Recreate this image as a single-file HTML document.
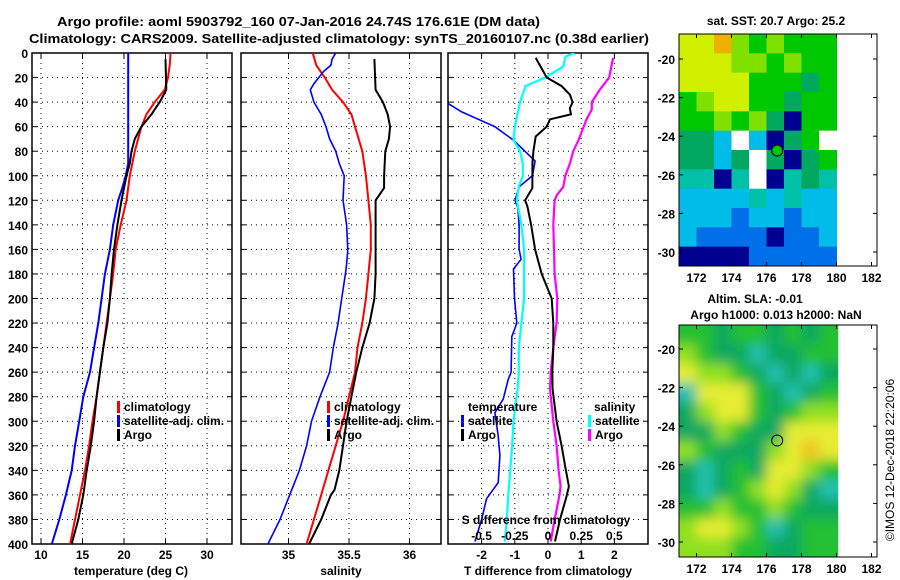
<!DOCTYPE html>
<html><head><meta charset="utf-8"><style>
body{margin:0;background:#fff;}
svg{display:block;font-family:"Liberation Sans",sans-serif;font-weight:bold;}
text{font-size:13px;fill:#000;}
</style></head><body>
<svg id="chart" width="900" height="580" viewBox="0 0 900 580" xmlns="http://www.w3.org/2000/svg">
<defs>
<filter id="smooth" x="0" y="0" width="1" height="1"><feGaussianBlur stdDeviation="6" edgeMode="duplicate"/></filter>
</defs>
<rect x="0" y="0" width="900" height="580" fill="#fff"/>
<text x="57" y="26" textLength="483" lengthAdjust="spacingAndGlyphs">Argo profile: aoml 5903792_160 07-Jan-2016 24.74S 176.61E (DM data)</text>
<text x="29" y="43" textLength="620" lengthAdjust="spacingAndGlyphs">Climatology: CARS2009. Satellite-adjusted climatology: synTS_20160107.nc (0.38d earlier)</text>
<g id="panels"></g>
<g id="maps"></g>
<text transform="translate(894,460) rotate(-90)" text-anchor="middle" style="font-size:12px;font-weight:normal">©IMOS 12-Dec-2018 22:20:06</text>
</svg>
<script>
// ---------- data ----------
const depthTicks = [0,20,40,60,80,100,120,140,160,180,200,220,240,260,280,300,320,340,360,380,400];
const tempTicks = [10,15,20,25,30];
const salTicks = [35,35.5,36];
const tdiffTicks = [-2,-1,0,1,2];
const sdiffTicks = [-0.5,-0.25,0,0.25,0.5];
const sdiffTickLabels = ["-0.5","-0.25","0","0.25","0.5"];

const tClimDepth = [0,10,20,30,40,50,60,80,100,120,140,160,180,200,220,240,260,280,300,320,340,360,380,400];
const tClimVal   = [25.6,25.5,25.3,24.9,23.7,22.7,22.1,21.3,20.7,20.3,19.6,19.0,18.7,18.3,17.9,17.5,17.1,16.7,16.2,15.8,15.3,14.7,14.1,13.5];
const tSatDepth = [0,90,100,110,120,140,160,180,200,220,240,260,280,300,320,340,360,380,400];
const tSatVal   = [20.5,20.5,20.2,19.8,19.3,18.7,18.3,17.7,17.3,16.9,16.4,15.9,15.1,14.6,14.1,13.7,13.0,12.2,11.3];
const tArgoDepth = [5,30,40,50,60,70,80,90,100,120,140,160,180,200,220,240,260,280,300,320,340,360,380,400];
const tArgoVal   = [25.0,25.1,24.3,23.3,22.1,21.3,20.9,20.7,20.3,19.7,19.2,18.8,18.5,18.3,18.0,17.5,17.1,16.7,16.4,16.0,15.5,15.1,14.5,13.7];

const sClimDepth = [0,10,20,30,40,50,60,80,100,120,140,160,180,200,220,240,260,280,300,320,340,360,380,400];
const sClimVal   = [35.20,35.23,35.30,35.36,35.45,35.52,35.55,35.61,35.64,35.66,35.68,35.68,35.66,35.64,35.61,35.57,35.55,35.50,35.45,35.39,35.33,35.27,35.21,35.15];
const sSatDepth = [0,5,10,15,25,30,40,50,60,70,80,90,100,120,140,160,172,180,200,220,240,260,280,300,320,340,360,380,400];
const sSatVal   = [35.39,35.36,35.35,35.29,35.21,35.18,35.21,35.27,35.31,35.34,35.39,35.42,35.46,35.45,35.48,35.49,35.48,35.47,35.44,35.41,35.37,35.34,35.26,35.19,35.15,35.09,35.01,34.93,34.83];
const sArgoDepth = [5,30,40,50,60,70,80,100,110,120,140,160,180,200,220,240,260,280,300,320,340,356,360,380,400];
const sArgoVal   = [35.71,35.72,35.78,35.82,35.84,35.83,35.80,35.79,35.79,35.72,35.72,35.72,35.72,35.71,35.67,35.61,35.56,35.52,35.48,35.45,35.42,35.38,35.35,35.27,35.17];

const dtSatDepth = [38,48,60,71,88,100,109,120,126,140,160,168,176,200,220,231,260,266,282,293,312,328,350,363,380,398];
const dtSatVal   = [-3.2,-2.6,-1.6,-1.04,-0.39,-0.47,-0.87,-0.99,-0.91,-0.87,-0.87,-0.81,-1.04,-1.01,-0.94,-1.09,-1.11,-1.2,-1.35,-1.6,-1.5,-1.45,-1.5,-1.85,-2.0,-2.2];
const dtArgoDepth = [4,20,27,34,40,45,50,54,60,68,80,90,100,110,120,125,140,160,180,200,220,240,260,274,300,320,340,353,361,380,398];
const dtArgoVal   = [-0.37,-0.04,0.41,0.66,0.74,0.66,0.69,0.06,-0.04,-0.37,-0.44,-0.47,-0.47,-0.47,-0.69,-0.62,-0.51,-0.39,-0.19,0.11,0.16,0.16,0.13,0.14,0.26,0.41,0.54,0.63,0.56,0.36,0.21];
const dsSatDepth = [0,3,11,20,27,40,60,71,80,90,100,109,120,140,160,180,200,220,240,260,274,300,320,340,361,380,398];
const dsSatVal   = [0.20,0.13,0.115,-0.02,-0.17,-0.21,-0.25,-0.26,-0.21,-0.19,-0.19,-0.22,-0.235,-0.20,-0.18,-0.18,-0.18,-0.20,-0.22,-0.22,-0.23,-0.26,-0.27,-0.285,-0.30,-0.31,-0.325];
const dsArgoDepth = [4,20,30,40,46,54,71,80,90,100,109,116,120,140,160,180,200,220,240,260,274,300,320,340,353,361,380,398];
const dsArgoVal   = [0.49,0.46,0.39,0.33,0.33,0.29,0.23,0.19,0.165,0.13,0.115,0.065,0.05,0.04,0.045,0.05,0.07,0.065,0.04,0.02,0.015,0.04,0.065,0.08,0.095,0.085,0.05,0.02];

// Map cell colour codes (rows from north, 1 deg columns 171..180E)
const sstRows = ["YYOLGLGGG","YYYLLGLGG","YYYYGGGDG","GLYYGGDGG","GGLGLDNGG","DDCWCNDGW","DDCDWDNDG","TTNTWNTDT","CCCCTCTCC","CCCBCCBCC","CBBBBNBBC","NNNNBBBBB"];
const slaRows = ["GGDGGDGDG","LGDDTDDGG","YLLGDTDTD","TYYYGDTDG","DLYYGDGLL","DDLGDDYYY","LGDDDLYOY","DTDGDYYLG","DTDGLYLDT","GGLGGLGDD","LYYLGTDGG","LLLGGDDGG"];
const mapLatTicks = [-20,-22,-24,-26,-28,-30];
const mapLonTicks = [172,174,176,178,180,182];
const argoLon = 176.61, argoLat = -24.74;

// ---------- helpers ----------
const NS = "http://www.w3.org/2000/svg";
const svg = document.getElementById('chart');
const panelsG = document.getElementById('panels');
const mapsG = document.getElementById('maps');
function mk(tag, attrs, parent){const e=document.createElementNS(NS,tag);for(const k in attrs)e.setAttribute(k,attrs[k]);parent.appendChild(e);return e;}
const yD = d => 53 + d*1.2275;
const PTOP=53, PBOT=544;
const xT = t => 41 + (t-10)*8.3;
const xS = s => 288.5 + (s-35)*121;
const xDT = v => 548 + v*33.2;
const xDS = v => 548 + v*4*33.2;

function frame(x0,x1,name,vTicks,xf){
  const g=mk('g',{},panelsG);
  
  
  const clip=mk('clipPath',{id:'clip-'+name},g);
  mk('rect',{x:x0,y:PTOP,width:x1-x0,height:PBOT-PTOP},clip);
  depthTicks.forEach(d=>{
    if(d>0&&d<400){const l=mk('line',{x1:x0,x2:x1,y1:yD(d),y2:yD(d),stroke:'#000','stroke-width':1,'stroke-dasharray':'1,4'},g);
      }
    mk('line',{x1:x0,x2:x0+5,y1:yD(d),y2:yD(d),stroke:'#000'},g);
    mk('line',{x1:x1-5,x2:x1,y1:yD(d),y2:yD(d),stroke:'#000'},g);
  });
  vTicks.forEach(v=>{const x=xf(v);
    const l=mk('line',{x1:x,x2:x,y1:PTOP,y2:PBOT,stroke:'#000','stroke-width':1,'stroke-dasharray':'1,4'},g);
    
    mk('line',{x1:x,x2:x,y1:PTOP,y2:PTOP+5,stroke:'#000'},g);
    mk('line',{x1:x,x2:x,y1:PBOT-5,y2:PBOT,stroke:'#000'},g);
  });
  mk('rect',{x:x0,y:PTOP,width:x1-x0,height:PBOT-PTOP,fill:'none',stroke:'#000','stroke-width':1.5},g);
  return g;
}
function series(g,name,depths,vals,xf,color,w,clipId){
  let d='';depths.forEach((dp,i)=>{d+=(i?'L':'M')+xf(vals[i]).toFixed(1)+','+yD(dp).toFixed(1);});
  const p=mk('path',{d:d,fill:'none',stroke:color,'stroke-width':w,'clip-path':'url(#'+clipId+')'},g);
  
  
}
function txt(parent,x,y,s,name,anchor,size){
  const t=mk('text',{x:x,y:y,'text-anchor':anchor||'start'},parent);
  if(size)t.style.fontSize=size+'px';
  t.textContent=s;
  
  
  return t;
}
function legendEntry(parent,x,y,color,label){
  const r=mk('rect',{x:x,y:y-10,width:3,height:12,fill:color},parent);
  
  
  txt(parent,x+7,y,label,'legend-entry','start',12);
}

// ---------- panel 1: temperature ----------
const g1=frame(32,232,'temperature-panel',tempTicks,xT);
series(g1,'temp-climatology-line',tClimDepth,tClimVal,xT,'#f00',2,'clip-temperature-panel');
series(g1,'temp-satellite-line',tSatDepth,tSatVal,xT,'#00f',2,'clip-temperature-panel');
series(g1,'temp-argo-line',tArgoDepth,tArgoVal,xT,'#000',2,'clip-temperature-panel');
depthTicks.forEach(d=>txt(g1,28,yD(d)+5,String(d),'y-tick-label','end',12));
tempTicks.forEach(v=>txt(g1,xT(v),559,String(v),'x-tick-label','middle',12));
txt(g1,131,575,'temperature (deg C)','x-axis-title','middle',12);
legendEntry(g1,117,411,'#f00','climatology');
legendEntry(g1,117,425,'#00f','satellite-adj. clim.');
legendEntry(g1,117,439,'#000','Argo');

// ---------- panel 2: salinity ----------
const g2=frame(241,441,'salinity-panel',salTicks,xS);
series(g2,'sal-climatology-line',sClimDepth,sClimVal,xS,'#f00',2,'clip-salinity-panel');
series(g2,'sal-satellite-line',sSatDepth,sSatVal,xS,'#00f',1.6,'clip-salinity-panel');
series(g2,'sal-argo-line',sArgoDepth,sArgoVal,xS,'#000',2,'clip-salinity-panel');
salTicks.forEach(v=>txt(g2,xS(v),559,String(v),'x-tick-label','middle',12));
txt(g2,341,575,'salinity','x-axis-title','middle',12);
legendEntry(g2,327,411,'#f00','climatology');
legendEntry(g2,327,425,'#00f','satellite-adj. clim.');
legendEntry(g2,327,439,'#000','Argo');

// ---------- panel 3: differences ----------
const g3=frame(448,648,'difference-panel',tdiffTicks,xDT);
series(g3,'tdiff-satellite-line',dtSatDepth,dtSatVal,xDT,'#00f',1.6,'clip-difference-panel');
series(g3,'sdiff-satellite-line',dsSatDepth,dsSatVal,xDS,'#0ff',2.2,'clip-difference-panel');
series(g3,'sdiff-argo-line',dsArgoDepth,dsArgoVal,xDS,'#f0f',2.2,'clip-difference-panel');
series(g3,'tdiff-argo-line',dtArgoDepth,dtArgoVal,xDT,'#000',2,'clip-difference-panel');
tdiffTicks.forEach(v=>txt(g3,xDT(v),559,String(v),'x-tick-label','middle',12));
sdiffTicks.forEach((v,i)=>txt(g3,xDS(v),540,sdiffTickLabels[i],'s-tick-label','middle',12));
txt(g3,546,524,'S difference from climatology','s-axis-title','middle',12);
txt(g3,548,575,'T difference from climatology','x-axis-title','middle',12);
txt(g3,468,411,'temperature','legend-title','start',12);
legendEntry(g3,461,425,'#00f','satellite');
legendEntry(g3,461,439,'#000','Argo');
txt(g3,594,411,'salinity','legend-title','start',12);
legendEntry(g3,588,425,'#0ff','satellite');
legendEntry(g3,588,439,'#f0f','Argo');

// ---------- maps ----------
const sstCol={Y:'#d0f000',O:'#f0b000',L:'#80e000',G:'#00c800',D:'#00a860',T:'#00c0a8',C:'#00bce8',B:'#0070e8',N:'#000090',W:'#ffffff'};
const slaCol={Y:'#e6ec30',O:'#f0c020',L:'#90e020',G:'#20c030',D:'#10a860',T:'#20c0b0'};
function drawMap(name,top,latM20,rows,cols,smooth){
  const g=mk('g',{},mapsG);
  
  
  const x0=679,x1=877,bot=top+232,pxLon=17.5,pxLat=19.3;
  const xL=lon=>x0+(lon-171)*pxLon;
  const yL=lat=>latM20+(-20-lat)*pxLat;
  const rowH=(bot-top)/rows.length;
  const clip=mk('clipPath',{id:'clip-'+name},g);
  mk('rect',{x:x0,y:top,width:xL(180.1)-x0,height:bot-top},clip);
  const outer=mk('g',{'clip-path':'url(#clip-'+name+')'},g);
  const cg=mk('g',smooth?{filter:'url(#smooth)'}:{},outer);
  rows.forEach((r,ri)=>{[...r].forEach((c,ci)=>{
    const cell=mk('rect',{x:xL(171+ci)-(smooth&&ci===0?20:0),y:top+ri*rowH-(smooth&&ri===0?20:0),width:pxLon+0.5+(smooth&&(ci===0||ci===r.length-1)?20:0),height:rowH+0.5+(smooth&&(ri===0||ri===rows.length-1)?20:0),fill:cols[c]},cg);
    
    
  });});
  mk('rect',{x:x0,y:top,width:x1-x0,height:bot-top,fill:'none',stroke:'#000','stroke-width':1},g);
  mapLatTicks.forEach(l=>{const y=yL(l);
    mk('line',{x1:x0,x2:x0+4,y1:y,y2:y,stroke:'#000'},g);mk('line',{x1:x1-4,x2:x1,y1:y,y2:y,stroke:'#000'},g);
    txt(g,675,y+5,String(l),'map-lat-label','end',12);});
  mapLonTicks.forEach(l=>{const x=xL(l);
    mk('line',{x1:x,x2:x,y1:top,y2:top+4,stroke:'#000'},g);mk('line',{x1:x,x2:x,y1:bot-4,y2:bot,stroke:'#000'},g);
    txt(g,x,bot+16,String(l),'map-lon-label','middle',12);});
  const c=mk('circle',{cx:xL(argoLon),cy:yL(argoLat),r:5.5,fill:name==='sst-map'?'#00c800':'none',stroke:'#000','stroke-width':1},g);
  
  
  return g;
}
const m1=drawMap('sst-map',34,59,sstRows,sstCol,false);
txt(m1,776,25,'sat. SST: 20.7 Argo: 25.2','map-title','middle',12);
const m2=drawMap('sla-map',325,349,slaRows,slaCol,true);
txt(m2,755,303,'Altim. SLA: -0.01','map-title','middle',12);
txt(m2,776,319,'Argo h1000: 0.013 h2000: NaN','map-subtitle','middle',12);
</script>
</body></html>
